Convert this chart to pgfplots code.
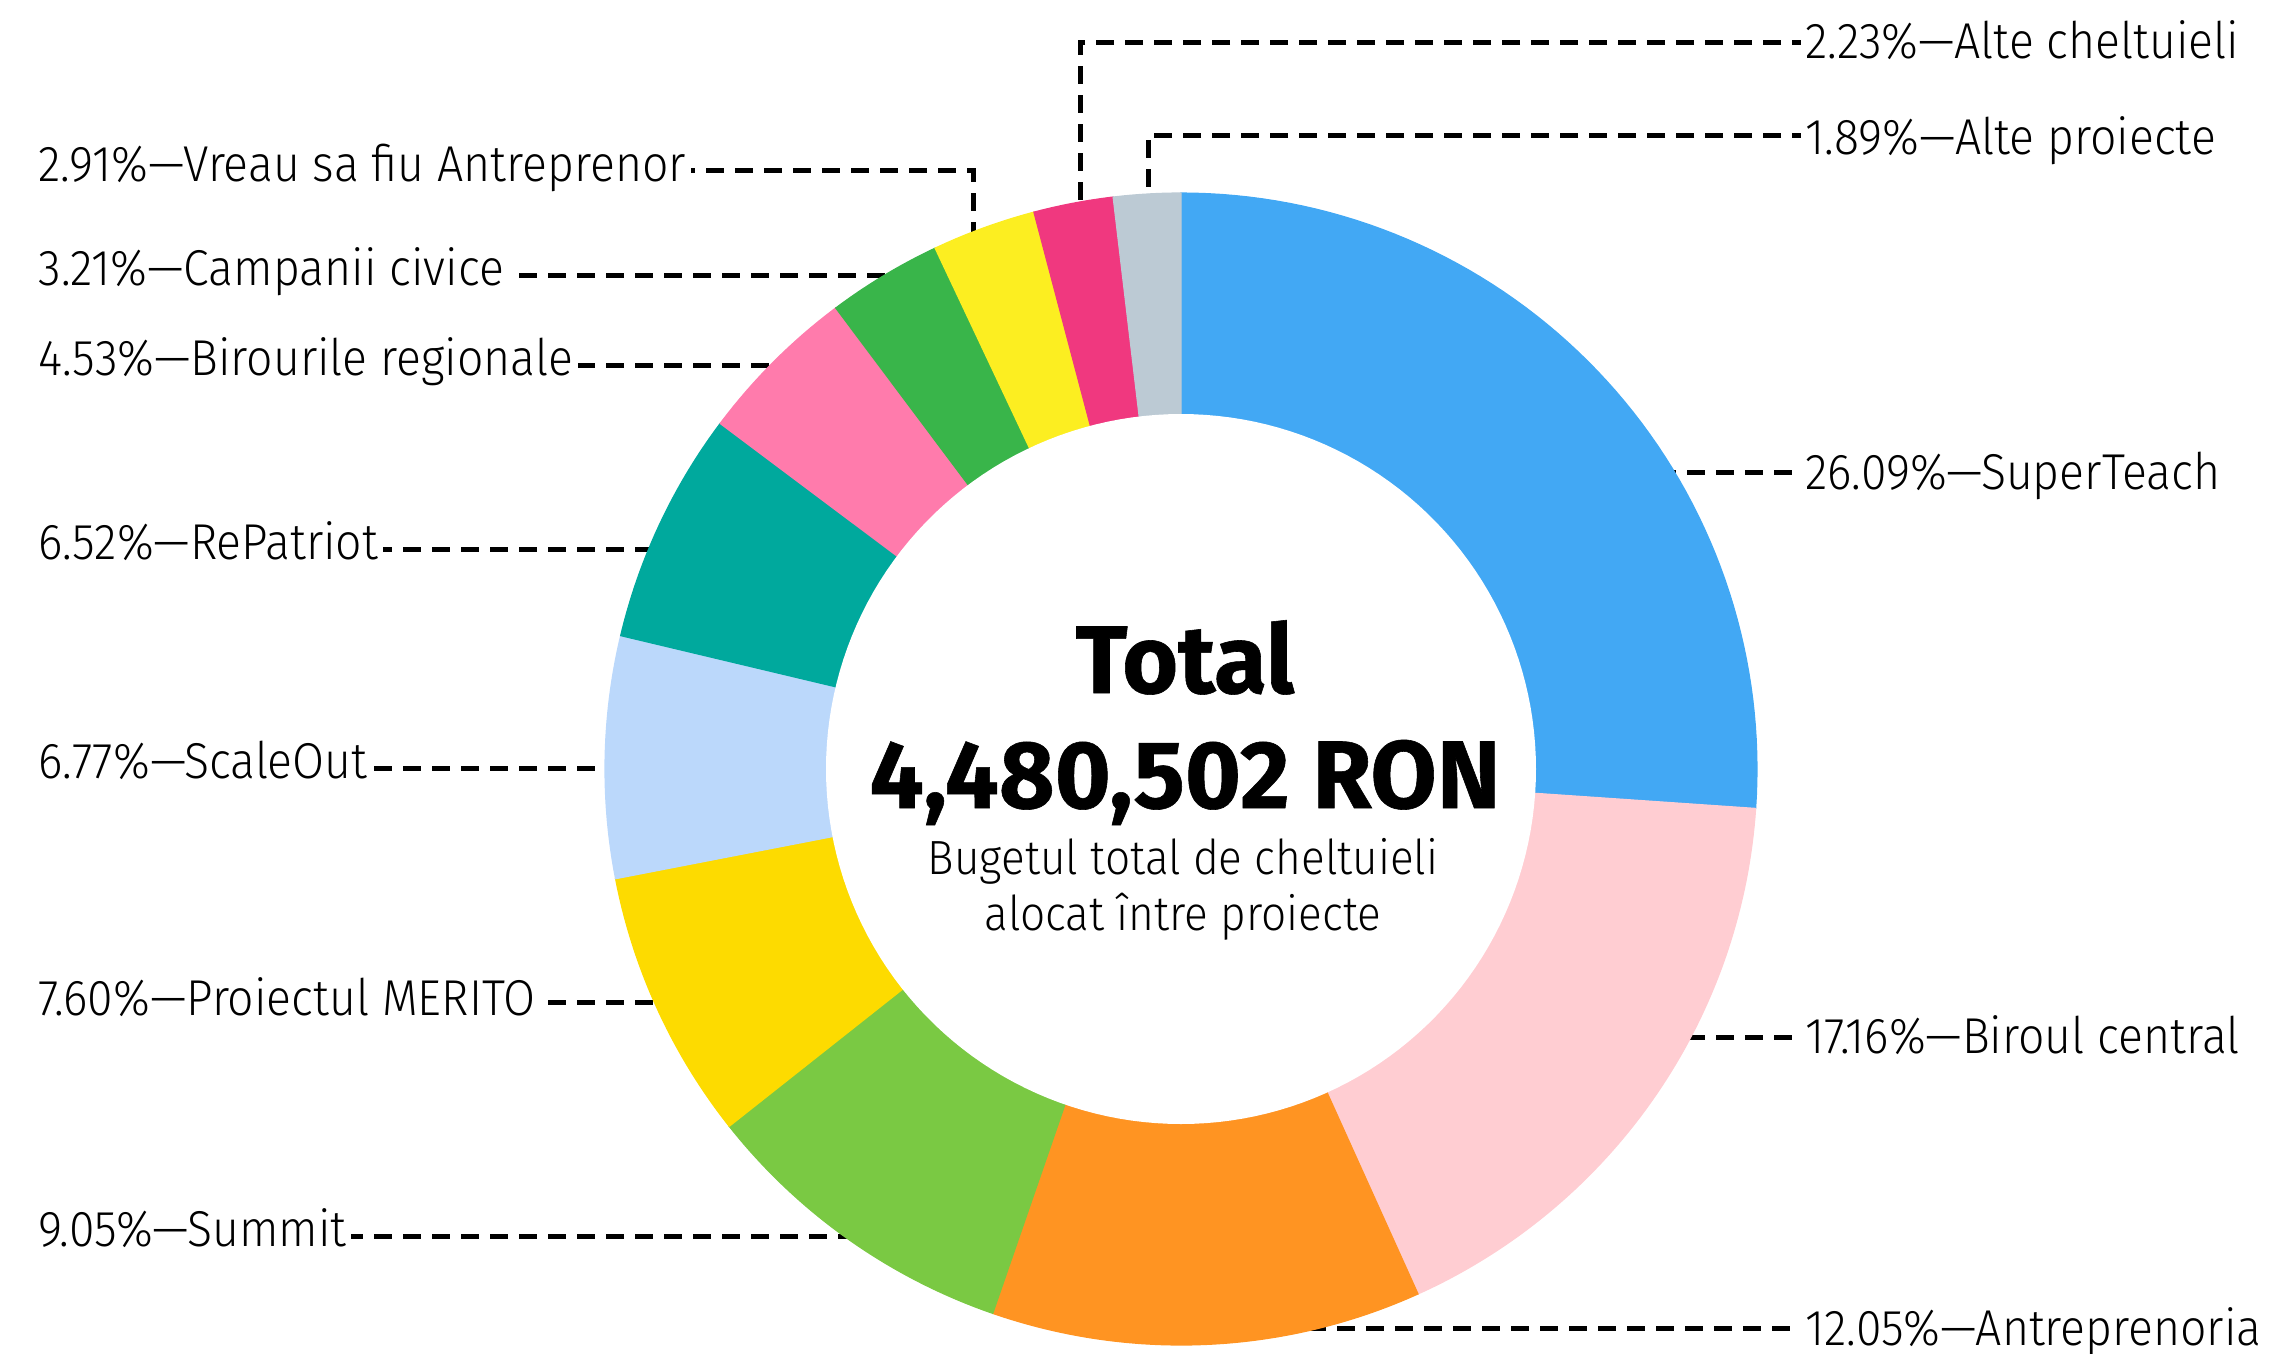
\documentclass[border=0pt]{standalone}
\usepackage{pgfplots}
\pgfplotsset{compat=1.18}
\usepackage{fontspec}
\setmainfont{Fira Sans Light}[FakeStretch=0.92]
\newfontfamily\heavyfont{Fira Sans Bold}[FakeBold=0.6]
\definecolor{cST}{HTML}{42A8F4}
\definecolor{cBC}{HTML}{FFCDD2}
\definecolor{cAN}{HTML}{FF9422}
\definecolor{cSU}{HTML}{7AC943}
\definecolor{cME}{HTML}{FDDB00}
\definecolor{cSO}{HTML}{BBD8FB}
\definecolor{cRP}{HTML}{00A99D}
\definecolor{cBR}{HTML}{FF7BAC}
\definecolor{cCC}{HTML}{39B54A}
\definecolor{cVR}{HTML}{FCEE21}
\definecolor{cAC}{HTML}{F0387F}
\definecolor{cAP}{HTML}{BCCAD4}
% slice: start cumulative %, end cumulative %, colour
\newcommand{\slice}[3]{%
  \addplot[fill=#3, draw=#3, line width=0.3pt, domain=#1:#2, samples=70, variable=\t]
    ({1181+576*cos(90-3.6*\t)}, {769-576*sin(90-3.6*\t)}) -- (1181,769) -- cycle;
}
\tikzset{lead/.style={black, line width=1.25pt, dash pattern=on 4.5pt off 2.75pt}}
\begin{document}
\begin{tikzpicture}
\begin{axis}[at={(0,0)}, anchor=south west, scale only axis,
  width=568.75pt, height=338.25pt,
  xmin=0, xmax=2275, ymin=0, ymax=1353, y dir=reverse,
  hide axis, clip=false]
\coordinate (BL) at (rel axis cs:0,0);
\coordinate (TR) at (rel axis cs:1,1);
% leader lines (behind the ring)
\addplot[lead] coordinates {(2100,42) (1080,42) (1080,330)};
\addplot[lead] coordinates {(2100,135) (1148,135) (1148,330)};
\addplot[lead] coordinates {(1600,472) (2100,472)};
\addplot[lead] coordinates {(1600,1037) (2100,1037)};
\addplot[lead] coordinates {(1250,1328) (2100,1328)};
\addplot[lead] coordinates {(300,170) (973,170) (973,360)};
\addplot[lead] coordinates {(200,275) (1000,275)};
\addplot[lead] coordinates {(200,365) (900,365)};
\addplot[lead] coordinates {(200,549) (800,549)};
\addplot[lead] coordinates {(200,768) (800,768)};
\addplot[lead] coordinates {(200,1002) (800,1002)};
\addplot[lead] coordinates {(200,1236) (900,1236)};
% ring
\slice{0}{26.09}{cST}
\slice{26.09}{43.25}{cBC}
\slice{43.25}{55.30}{cAN}
\slice{55.30}{64.35}{cSU}
\slice{64.35}{71.95}{cME}
\slice{71.95}{78.72}{cSO}
\slice{78.72}{85.24}{cRP}
\slice{85.24}{89.77}{cBR}
\slice{89.77}{92.98}{cCC}
\slice{92.98}{95.89}{cVR}
\slice{95.89}{98.12}{cAC}
\slice{98.12}{100}{cAP}
\addplot[fill=white, draw=none, domain=0:360, samples=181] ({1181+355*cos(x)},{769+355*sin(x)}) -- cycle;
% labels
\begin{scope}[every node/.style={fill=white, inner sep=1.2pt, font=\fontsize{12.6}{14}\selectfont}]
\node[anchor=base west] at (1800,58) {2.23\%—Alte cheltuieli};
\node[anchor=base west] at (1800,154) {1.89\%—Alte proiecte};
\node[anchor=base west] at (1800,489) {26.09\%—SuperTeach};
\node[anchor=base west] at (1800,1053) {17.16\%—Biroul central};
\node[anchor=base west] at (1800,1345) {12.05\%—Antreprenoria};
\node[anchor=base west] at (33,181) {2.91\%—Vreau sa fiu Antreprenor};
\node[anchor=base west] at (33,285) {3.21\%—Campanii civice};
\node[anchor=base west] at (33,375) {4.53\%—Birourile regionale};
\node[anchor=base west] at (33,559) {6.52\%—RePatriot};
\node[anchor=base west] at (33,778) {6.77\%—ScaleOut};
\node[anchor=base west] at (33,1015) {7.60\%—Proiectul MERITO};
\node[anchor=base west] at (33,1246) {9.05\%—Summit};
\end{scope}
% centre
\node[anchor=base, inner sep=0pt] at (1185,693) {\fontsize{24}{26}\selectfont\heavyfont Total};
\node[anchor=base, inner sep=0pt] at (1185,808) {\fontsize{24}{26}\selectfont\heavyfont 4,480,502 RON};
\node[anchor=base, inner sep=0pt] at (1183,874) {\fontsize{12}{14}\selectfont Bugetul total de cheltuieli};
\node[anchor=base, inner sep=0pt] at (1183,930) {\fontsize{12}{14}\selectfont alocat între proiecte};
\end{axis}
\pgfresetboundingbox
\path[use as bounding box] (BL) rectangle (TR);
\end{tikzpicture}
\end{document}
